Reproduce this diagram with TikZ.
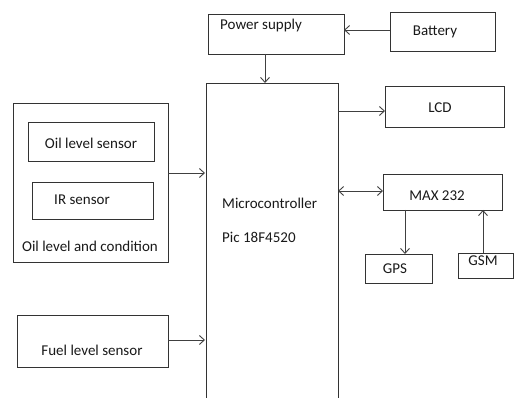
\documentclass[tikz,border=0pt]{standalone}
\usepackage{fontspec}
\setmainfont{Carlito}
\usetikzlibrary{arrows.meta}
\begin{document}
\begin{tikzpicture}[x=1pt,y=-1pt,
  blk/.style={draw=black!80,line width=0.9pt,rectangle},
  conn/.style={draw=black!75,line width=0.9pt,-{Straight Barb[length=5pt,width=9pt]}},
  dconn/.style={draw=black!75,line width=0.9pt,{Straight Barb[length=5pt,width=9pt]}-{Straight Barb[length=5pt,width=9pt]}},
  lbl/.style={font=\fontsize{15}{17}\selectfont,text=black!90,inner sep=0pt}]
\useasboundingbox[fill=white] (0,0) rectangle (514,398);
% boxes
\draw[blk] (208,14) rectangle (344,54);
\node[lbl,anchor=west] (pstext) at (220,26) {Power supply};
\draw[blk] (390,12) rectangle (495,51);
\node[lbl] (battext) at (435,32) {Battery};
\draw[blk] (206,398) -- (206,83) -- (338,83) -- (338,398);
\node[lbl,anchor=west] (mc1) at (222,203) {Microcontroller};
\node[lbl,anchor=west] (mc2) at (222,237) {Pic 18F4520};
\draw[blk] (385,86) rectangle (504,127);
\node[lbl] (lcdtext) at (440,108) {LCD};
\draw[blk] (13,103) rectangle (168,262);
\draw[blk] (28,122) rectangle (154,161);
\node[lbl] (oilt) at (91,143) {Oil level sensor};
\draw[blk] (32,182) rectangle (153,219);
\node[lbl] (irt) at (82,200) {IR sensor};
\node[lbl] (oct) at (90,246) {Oil level and condition};
\draw[blk] (383,174) rectangle (502,210);
\node[lbl] (maxt) at (437,196) {MAX 232};
\draw[blk] (365,254) rectangle (432,283);
\node[lbl] (gpst) at (395,269) {GPS};
\draw[blk] (458,253) rectangle (513,278);
\node[lbl] (gsmt) at (483,261) {GSM};
\draw[blk] (17,315) rectangle (168,367);
\node[lbl] (fuelt) at (92,350) {Fuel level sensor};
% connectors
\coordinate (batL) at (390,30);
\coordinate (psR) at (344,30);
\coordinate (psB) at (265,54);
\coordinate (mcT) at (265,83);
\coordinate (mcR1) at (338,111);
\coordinate (lcdL) at (385,111);
\coordinate (mcR2) at (338,191);
\coordinate (maxL) at (383,191);
\coordinate (maxB1) at (405,210);
\coordinate (gpsT) at (405,254);
\coordinate (gsmT) at (483,253);
\coordinate (maxB2) at (483,210);
\coordinate (oilR) at (168,173);
\coordinate (mcL1) at (205,173);
\coordinate (fuelR) at (168,340);
\coordinate (mcL2) at (205,340);
\draw[conn] (batL) -- (psR);
\draw[conn] (psB) -- (mcT);
\draw[conn] (mcR1) -- (lcdL);
\draw[dconn] (mcR2) -- (maxL);
\draw[conn] (maxB1) -- (gpsT);
\draw[conn] (gsmT) -- (maxB2);
\draw[conn] (oilR) -- (mcL1);
\draw[conn] (fuelR) -- (mcL2);
\end{tikzpicture}
\end{document}
